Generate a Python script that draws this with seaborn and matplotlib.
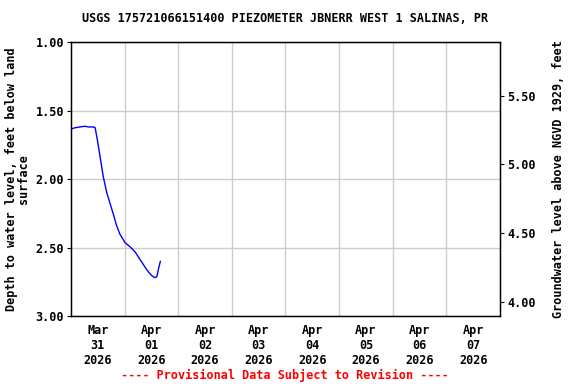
import pandas as pd
import matplotlib.pyplot as plt
import seaborn as sns

# Datos (horas desde 2026-03-31 00:00, profundidad en pies)
horas = [0, 2, 4, 6, 8, 10, 10.8, 11.8, 13, 14.4, 16, 17.5, 19, 20.4, 21.8,
         24.2, 26.4, 28.6, 31, 33, 34.6, 36.2, 37.5, 38.4, 39.1, 40]
profundidad = [1.635, 1.625, 1.62, 1.615, 1.62, 1.62, 1.625, 1.715, 1.837, 1.98,
               2.10, 2.18, 2.26, 2.34, 2.40, 2.465, 2.494, 2.53, 2.59, 2.64,
               2.677, 2.706, 2.72, 2.713, 2.66, 2.60]
dias = ['2026-03-31', '2026-04-01', '2026-04-02', '2026-04-03',
        '2026-04-04', '2026-04-05', '2026-04-06', '2026-04-07']
offset_datum = 6.894

inicio = pd.Timestamp('2026-03-31')
df = pd.DataFrame({'fecha': inicio + pd.to_timedelta(horas, unit='h'),
                   'prof': profundidad})

sns.set_style('white')
plt.rcParams['font.family'] = ['DejaVu Sans Mono']
plt.rcParams['font.weight'] = 'bold'
plt.rcParams['text.color'] = 'black'
plt.rcParams['axes.labelcolor'] = 'black'
plt.rcParams['xtick.color'] = 'black'
plt.rcParams['ytick.color'] = 'black'

fig = plt.figure(figsize=(5.76, 3.84), dpi=100)
ax = fig.add_axes([0.1233, 0.177, 0.7447, 0.7136])

sns.lineplot(data=df, x='fecha', y='prof', color='#0000ff', linewidth=1, ax=ax)

ax.set_xlim(inicio, inicio + pd.Timedelta(days=8))
ax.set_ylim(3.0, 1.0)
ax.set_yticks([1.0, 1.5, 2.0, 2.5, 3.0])
ax.set_yticklabels(['1.00', '1.50', '2.00', '2.50', '3.00'], fontsize=8.5, fontweight='bold')

# gridlines a medianoche, etiquetas al mediodia
ax.set_xticks(pd.to_datetime(dias[1:]), minor=False)
ax.set_xticklabels([])
ax.tick_params(axis='x', length=0)
ax.set_xticks(pd.to_datetime(dias) + pd.Timedelta(hours=12), minor=True)
etiquetas = [pd.Timestamp(d).strftime('%b\n%d\n%Y') for d in dias]
ax.set_xticklabels(etiquetas, minor=True, fontsize=8.5, fontweight='bold')
ax.tick_params(axis='x', which='minor', length=0, pad=6)
ax.tick_params(axis='y', length=3, direction='out', left=True, pad=2)
ax.grid(True, which='major', color='#cccccc', linewidth=1)
ax.set_axisbelow(True)
ax.set_xlabel('')
ax.set_ylabel('Depth to water level, feet below land\nsurface', fontsize=8.5,
              fontweight='bold', linespacing=0.9)
for s in ax.spines.values():
    s.set_color('black')
    s.set_linewidth(1)

ax2 = ax.twinx()
ax2.set_ylim(offset_datum - 3.0, offset_datum - 1.0)
ax2.set_yticks([4.0, 4.5, 5.0, 5.5])
ax2.set_yticklabels(['4.00', '4.50', '5.00', '5.50'], fontsize=8.5, fontweight='bold')
ax2.tick_params(axis='y', length=3, direction='out', right=True, pad=2)
ax2.set_ylabel('Groundwater level above NGVD 1929, feet', fontsize=8.5,
               fontweight='bold', rotation=90, labelpad=12)
ax2.yaxis.set_label_position('right')
for s in ax2.spines.values():
    s.set_color('black')

fig.text(0.495, 0.953, 'USGS 175721066151400 PIEZOMETER JBNERR WEST 1 SALINAS, PR',
         ha='center', va='center', fontsize=8.5, fontweight='bold')
fig.text(0.495, 0.023, '---- Provisional Data Subject to Revision ----',
         ha='center', va='center', fontsize=8.5, fontweight='bold', color='red')

plt.savefig('out.png', dpi=100)
